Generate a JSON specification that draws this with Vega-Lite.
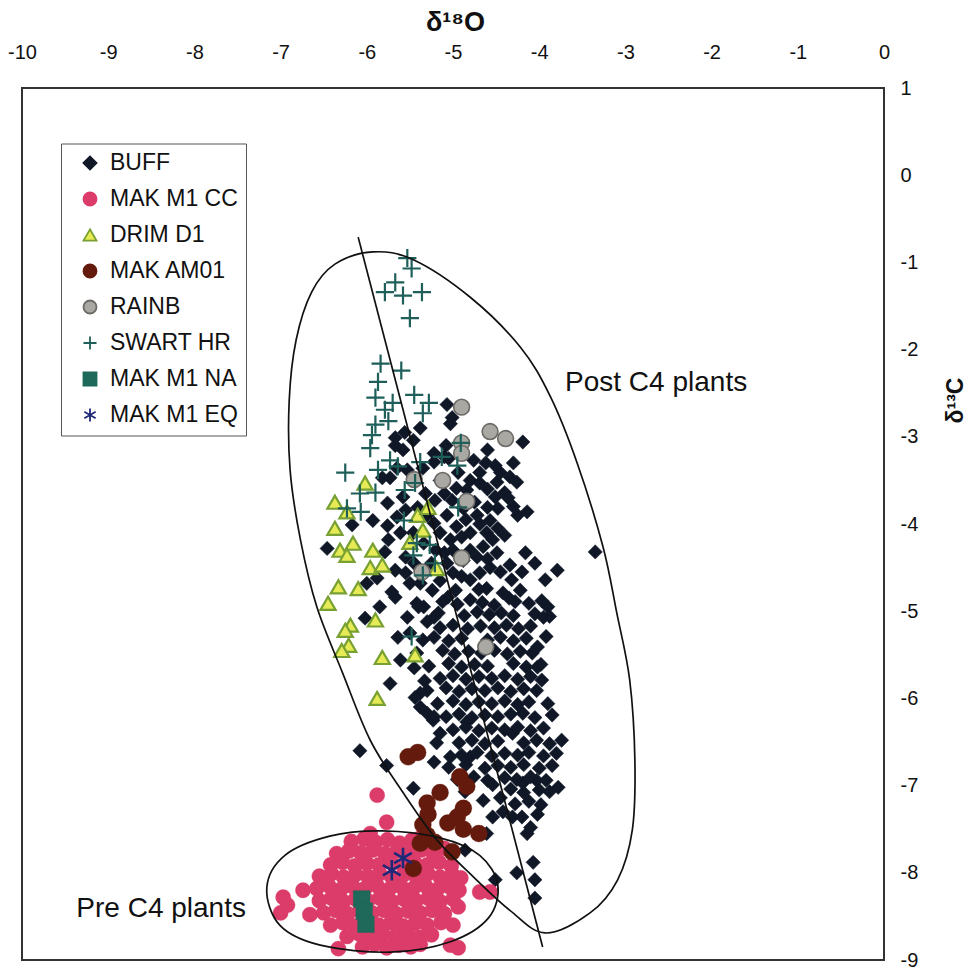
{
"$schema":"https://vega.github.io/schema/vega-lite/v6.json",
"width":862,"height":872,
"autosize":{"type":"none"},
"padding":{"left":22,"top":88,"right":85,"bottom":13},
"background":"white",
"config":{
 "view":{"stroke":"#333","strokeWidth":2},
 "font":"Liberation Sans",
 "legend":{"labelFont":"Liberation Sans","labelFontSize":23,"labelColor":"#111","symbolSize":170,"symbolStrokeWidth":1.8,"padding":8,"strokeColor":"#555","fillColor":"white","rowPadding":12,"symbolOffset":9.5,"labelOffset":8.5,"labelLimit":400}
},
"datasets":{
"pts":[
{"s":"BUFF","x":-5.07,"y":-2.63},{"s":"BUFF","x":-5.01,"y":-2.78},{"s":"BUFF","x":-5.03,"y":-2.85},{"s":"BUFF","x":-5.38,"y":-2.90},{"s":"BUFF","x":-5.56,"y":-2.95},{"s":"BUFF","x":-5.67,"y":-3.01},{"s":"BUFF","x":-5.46,"y":-3.04},{"s":"BUFF","x":-4.19,"y":-3.06},{"s":"BUFF","x":-4.60,"y":-3.15},{"s":"BUFF","x":-4.76,"y":-3.27},{"s":"BUFF","x":-5.22,"y":-3.29},{"s":"BUFF","x":-5.08,"y":-3.10},{"s":"BUFF","x":-4.51,"y":-3.33},{"s":"BUFF","x":-4.45,"y":-3.41},{"s":"BUFF","x":-4.34,"y":-3.46},{"s":"BUFF","x":-4.26,"y":-3.52},{"s":"BUFF","x":-4.49,"y":-3.52},{"s":"BUFF","x":-4.69,"y":-3.41},{"s":"BUFF","x":-4.80,"y":-3.50},{"s":"BUFF","x":-4.96,"y":-3.59},{"s":"BUFF","x":-4.84,"y":-3.61},{"s":"BUFF","x":-4.69,"y":-3.53},{"s":"BUFF","x":-4.40,"y":-3.64},{"s":"BUFF","x":-4.36,"y":-3.70},{"s":"BUFF","x":-4.51,"y":-3.69},{"s":"BUFF","x":-4.14,"y":-3.86},{"s":"BUFF","x":-4.25,"y":-3.90},{"s":"BUFF","x":-4.48,"y":-3.82},{"s":"BUFF","x":-4.57,"y":-3.96},{"s":"BUFF","x":-4.69,"y":-4.00},{"s":"BUFF","x":-4.72,"y":-3.90},{"s":"BUFF","x":-5.07,"y":-3.90},{"s":"BUFF","x":-4.96,"y":-4.03},{"s":"BUFF","x":-5.15,"y":-4.10},{"s":"BUFF","x":-5.03,"y":-4.18},{"s":"BUFF","x":-4.90,"y":-4.15},{"s":"BUFF","x":-4.80,"y":-4.10},{"s":"BUFF","x":-4.61,"y":-4.10},{"s":"BUFF","x":-4.48,"y":-4.05},{"s":"BUFF","x":-4.40,"y":-4.13},{"s":"BUFF","x":-4.54,"y":-4.18},{"s":"BUFF","x":-4.65,"y":-4.26},{"s":"BUFF","x":-4.72,"y":-4.38},{"s":"BUFF","x":-4.49,"y":-4.33},{"s":"BUFF","x":-4.34,"y":-4.47},{"s":"BUFF","x":-4.57,"y":-4.50},{"s":"BUFF","x":-4.69,"y":-4.56},{"s":"BUFF","x":-4.80,"y":-4.64},{"s":"BUFF","x":-5.00,"y":-4.56},{"s":"BUFF","x":-5.07,"y":-4.45},{"s":"BUFF","x":-4.88,"y":-4.42},{"s":"BUFF","x":-4.16,"y":-4.33},{"s":"BUFF","x":-3.79,"y":-4.53},{"s":"BUFF","x":-3.93,"y":-4.64},{"s":"BUFF","x":-4.32,"y":-4.64},{"s":"BUFF","x":-4.22,"y":-4.76},{"s":"BUFF","x":-4.42,"y":-4.79},{"s":"BUFF","x":-4.61,"y":-4.74},{"s":"BUFF","x":-5.71,"y":-4.78},{"s":"BUFF","x":-5.79,"y":-4.32},{"s":"BUFF","x":-5.75,"y":-4.18},{"s":"BUFF","x":-5.61,"y":-4.10},{"s":"BUFF","x":-5.65,"y":-3.92},{"s":"BUFF","x":-5.76,"y":-3.76},{"s":"BUFF","x":-5.58,"y":-3.69},{"s":"BUFF","x":-5.73,"y":-3.47},{"s":"BUFF","x":-5.65,"y":-3.36},{"s":"BUFF","x":-5.53,"y":-3.38},{"s":"BUFF","x":-5.35,"y":-3.36},{"s":"BUFF","x":-5.22,"y":-3.19},{"s":"BUFF","x":-5.58,"y":-3.15},{"s":"BUFF","x":-5.21,"y":-3.73},{"s":"BUFF","x":-5.32,"y":-3.65},{"s":"BUFF","x":-5.41,"y":-3.81},{"s":"BUFF","x":-5.55,"y":-3.84},{"s":"BUFF","x":-5.22,"y":-3.99},{"s":"BUFF","x":-5.34,"y":-4.22},{"s":"BUFF","x":-5.46,"y":-4.10},{"s":"BUFF","x":-5.55,"y":-4.38},{"s":"BUFF","x":-5.67,"y":-4.53},{"s":"BUFF","x":-5.38,"y":-4.68},{"s":"BUFF","x":-5.24,"y":-4.76},{"s":"BUFF","x":-4.97,"y":-4.76},{"s":"BUFF","x":-4.80,"y":-4.87},{"s":"BUFF","x":-5.10,"y":-4.33},{"s":"BUFF","x":-4.60,"y":-3.81},{"s":"BUFF","x":-4.88,"y":-3.82},{"s":"BUFF","x":-5.01,"y":-3.73},{"s":"BUFF","x":-5.15,"y":-3.50},{"s":"BUFF","x":-4.94,"y":-3.41},
{"s":"BUFF","x":-5.10,"y":-3.65},{"s":"BUFF","x":-4.60,"y":-3.60},{"s":"BUFF","x":-4.30,"y":-3.80},{"s":"BUFF","x":-5.30,"y":-3.90},{"s":"BUFF","x":-4.85,"y":-3.95},{"s":"BUFF","x":-5.00,"y":-4.30},{"s":"BUFF","x":-4.80,"y":-4.30},{"s":"BUFF","x":-4.60,"y":-4.40},{"s":"BUFF","x":-4.45,"y":-4.55},{"s":"BUFF","x":-4.90,"y":-4.60},{"s":"BUFF","x":-5.15,"y":-4.65},{"s":"BUFF","x":-4.35,"y":-4.85},{"s":"BUFF","x":-4.70,"y":-4.75},{"s":"BUFF","x":-5.45,"y":-4.45},{"s":"BUFF","x":-5.25,"y":-4.45},{"s":"BUFF","x":-4.20,"y":-4.55},{"s":"BUFF","x":-4.05,"y":-4.45},{"s":"BUFF","x":-5.20,"y":-4.30},{"s":"BUFF","x":-4.75,"y":-3.75},{"s":"BUFF","x":-5.05,"y":-3.25},{"s":"BUFF","x":-4.62,"y":-3.30},{"s":"BUFF","x":-4.30,"y":-3.30},
{"s":"BUFF","x":-3.35,"y":-4.32},{"s":"BUFF","x":-6.46,"y":-4.28},{"s":"BUFF","x":-6.17,"y":-4.01},{"s":"BUFF","x":-5.93,"y":-3.96},{"s":"BUFF","x":-5.82,"y":-3.47},{"s":"BUFF","x":-5.76,"y":-4.02},{"s":"BUFF","x":-6.00,"y":-4.68},{"s":"BUFF","x":-5.88,"y":-4.62},{"s":"BUFF","x":-5.85,"y":-4.95},{"s":"BUFF","x":-6.02,"y":-5.08},{"s":"BUFF","x":-5.67,"y":-4.84},{"s":"BUFF","x":-5.50,"y":-4.68},{"s":"BUFF","x":-5.55,"y":-4.56},{"s":"BUFF","x":-5.53,"y":-5.07},{"s":"BUFF","x":-5.34,"y":-4.95},{"s":"BUFF","x":-5.22,"y":-5.07},{"s":"BUFF","x":-5.06,"y":-4.84},{"s":"BUFF","x":-5.10,"y":-3.23},{"s":"BUFF","x":-5.67,"y":-3.10},
{"s":"BUFF","x":-5.64,"y":-5.30},{"s":"BUFF","x":-5.61,"y":-5.56},{"s":"BUFF","x":-5.73,"y":-5.83},{"s":"BUFF","x":-5.38,"y":-5.94},{"s":"BUFF","x":-5.30,"y":-6.17},{"s":"BUFF","x":-5.23,"y":-6.25},{"s":"BUFF","x":-5.15,"y":-6.40},{"s":"BUFF","x":-5.03,"y":-6.67},{"s":"BUFF","x":-4.80,"y":-6.67},{"s":"BUFF","x":-5.77,"y":-6.77},{"s":"BUFF","x":-6.08,"y":-6.60},{"s":"BUFF","x":-5.46,"y":-7.03},
{"s":"BUFF","x":-3.74,"y":-6.48},{"s":"BUFF","x":-3.78,"y":-7.02},{"s":"BUFF","x":-4.03,"y":-6.94},{"s":"BUFF","x":-4.14,"y":-7.55},{"s":"BUFF","x":-4.07,"y":-7.88},{"s":"BUFF","x":-4.26,"y":-8.00},{"s":"BUFF","x":-4.05,"y":-8.08},{"s":"BUFF","x":-4.05,"y":-8.29},{"s":"BUFF","x":-4.51,"y":-8.08},{"s":"BUFF","x":-4.31,"y":-7.36},
{"s":"BUFF","x":-4.54,"y":-6.99},{"s":"BUFF","x":-4.65,"y":-7.17},{"s":"BUFF","x":-4.45,"y":-7.14},{"s":"BUFF","x":-4.54,"y":-7.36},{"s":"BUFF","x":-4.42,"y":-7.30},{"s":"BUFF","x":-4.19,"y":-6.97},{"s":"BUFF","x":-4.61,"y":-7.55},{"s":"BUFF","x":-4.86,"y":-7.74},
{"s":"BUFF","x":-3.90,"y":-4.95},{"s":"BUFF","x":-3.95,"y":-5.07},{"s":"BUFF","x":-4.02,"y":-5.41},{"s":"BUFF","x":-4.02,"y":-5.64},{"s":"BUFF","x":-5.44,"y":-5.99},{"s":"BUFF","x":-5.38,"y":-6.10},{"s":"BUFF","x":-5.22,"y":-6.21},{"s":"BUFF","x":-5.19,"y":-6.51},{"s":"BUFF","x":-5.22,"y":-6.73},{"s":"BUFF","x":-4.84,"y":-6.27},{"s":"BUFF","x":-4.31,"y":-6.40},{"s":"BUFF","x":-4.19,"y":-6.17},
{"s":"BUFF","x":-5.40,"y":-4.95},{"s":"BUFF","x":-5.30,"y":-5.12},{"s":"BUFF","x":-5.45,"y":-5.65},{"s":"BUFF","x":-5.33,"y":-5.80},{"s":"BUFF","x":-5.50,"y":-5.25},
{"s":"BUFF","x":-5.42,"y":-4.91},{"s":"BUFF","x":-5.12,"y":-4.89},{"s":"BUFF","x":-4.95,"y":-4.92},{"s":"BUFF","x":-4.66,"y":-4.90},{"s":"BUFF","x":-4.52,"y":-4.93},{"s":"BUFF","x":-4.28,"y":-4.89},{"s":"BUFF","x":-4.12,"y":-4.91},{"s":"BUFF","x":-3.97,"y":-4.88},
{"s":"BUFF","x":-5.17,"y":-5.02},{"s":"BUFF","x":-4.87,"y":-5.05},{"s":"BUFF","x":-4.72,"y":-5.01},{"s":"BUFF","x":-4.58,"y":-5.04},{"s":"BUFF","x":-4.44,"y":-5.02},{"s":"BUFF","x":-4.30,"y":-5.05},{"s":"BUFF","x":-4.05,"y":-5.03},{"s":"BUFF","x":-3.88,"y":-5.06},
{"s":"BUFF","x":-5.15,"y":-5.19},{"s":"BUFF","x":-5.00,"y":-5.16},{"s":"BUFF","x":-4.83,"y":-5.20},{"s":"BUFF","x":-4.68,"y":-5.17},{"s":"BUFF","x":-4.52,"y":-5.19},{"s":"BUFF","x":-4.38,"y":-5.16},{"s":"BUFF","x":-4.24,"y":-5.20},{"s":"BUFF","x":-4.10,"y":-5.17},
{"s":"BUFF","x":-5.35,"y":-5.33},{"s":"BUFF","x":-5.22,"y":-5.30},{"s":"BUFF","x":-5.05,"y":-5.34},{"s":"BUFF","x":-4.90,"y":-5.31},{"s":"BUFF","x":-4.60,"y":-5.33},{"s":"BUFF","x":-4.45,"y":-5.30},{"s":"BUFF","x":-4.30,"y":-5.34},{"s":"BUFF","x":-4.15,"y":-5.31},{"s":"BUFF","x":-3.92,"y":-5.29},
{"s":"BUFF","x":-5.42,"y":-5.48},{"s":"BUFF","x":-5.12,"y":-5.45},{"s":"BUFF","x":-4.98,"y":-5.49},{"s":"BUFF","x":-4.82,"y":-5.46},{"s":"BUFF","x":-4.67,"y":-5.48},{"s":"BUFF","x":-4.52,"y":-5.45},{"s":"BUFF","x":-4.37,"y":-5.49},{"s":"BUFF","x":-4.22,"y":-5.46},{"s":"BUFF","x":-4.08,"y":-5.48},
{"s":"BUFF","x":-5.28,"y":-5.63},{"s":"BUFF","x":-5.05,"y":-5.60},{"s":"BUFF","x":-4.90,"y":-5.64},{"s":"BUFF","x":-4.75,"y":-5.61},{"s":"BUFF","x":-4.60,"y":-5.63},{"s":"BUFF","x":-4.30,"y":-5.60},{"s":"BUFF","x":-4.15,"y":-5.64},{"s":"BUFF","x":-3.98,"y":-5.61},
{"s":"BUFF","x":-5.15,"y":-5.77},{"s":"BUFF","x":-5.00,"y":-5.74},{"s":"BUFF","x":-4.85,"y":-5.78},{"s":"BUFF","x":-4.70,"y":-5.75},{"s":"BUFF","x":-4.55,"y":-5.77},{"s":"BUFF","x":-4.40,"y":-5.74},{"s":"BUFF","x":-4.25,"y":-5.78},{"s":"BUFF","x":-4.10,"y":-5.75},{"s":"BUFF","x":-3.97,"y":-5.79},
{"s":"BUFF","x":-5.30,"y":-5.91},{"s":"BUFF","x":-5.08,"y":-5.88},{"s":"BUFF","x":-4.93,"y":-5.92},{"s":"BUFF","x":-4.78,"y":-5.89},{"s":"BUFF","x":-4.63,"y":-5.91},{"s":"BUFF","x":-4.48,"y":-5.88},{"s":"BUFF","x":-4.33,"y":-5.92},{"s":"BUFF","x":-4.18,"y":-5.89},{"s":"BUFF","x":-4.03,"y":-5.91},
{"s":"BUFF","x":-5.18,"y":-6.06},{"s":"BUFF","x":-5.00,"y":-6.03},{"s":"BUFF","x":-4.85,"y":-6.07},{"s":"BUFF","x":-4.70,"y":-6.04},{"s":"BUFF","x":-4.55,"y":-6.06},{"s":"BUFF","x":-4.40,"y":-6.03},{"s":"BUFF","x":-4.25,"y":-6.07},{"s":"BUFF","x":-4.12,"y":-6.04},{"s":"BUFF","x":-3.90,"y":-6.06},
{"s":"BUFF","x":-5.08,"y":-6.21},{"s":"BUFF","x":-4.93,"y":-6.18},{"s":"BUFF","x":-4.78,"y":-6.22},{"s":"BUFF","x":-4.63,"y":-6.19},{"s":"BUFF","x":-4.48,"y":-6.21},{"s":"BUFF","x":-4.33,"y":-6.18},{"s":"BUFF","x":-4.05,"y":-6.22},{"s":"BUFF","x":-3.85,"y":-6.19},
{"s":"BUFF","x":-5.00,"y":-6.36},{"s":"BUFF","x":-4.85,"y":-6.33},{"s":"BUFF","x":-4.70,"y":-6.37},{"s":"BUFF","x":-4.55,"y":-6.34},{"s":"BUFF","x":-4.40,"y":-6.36},{"s":"BUFF","x":-4.25,"y":-6.33},{"s":"BUFF","x":-4.10,"y":-6.37},{"s":"BUFF","x":-3.95,"y":-6.34},
{"s":"BUFF","x":-4.93,"y":-6.51},{"s":"BUFF","x":-4.78,"y":-6.48},{"s":"BUFF","x":-4.63,"y":-6.52},{"s":"BUFF","x":-4.48,"y":-6.49},{"s":"BUFF","x":-4.18,"y":-6.51},{"s":"BUFF","x":-4.03,"y":-6.48},{"s":"BUFF","x":-3.88,"y":-6.52},
{"s":"BUFF","x":-4.90,"y":-6.65},{"s":"BUFF","x":-4.72,"y":-6.62},{"s":"BUFF","x":-4.55,"y":-6.66},{"s":"BUFF","x":-4.40,"y":-6.63},{"s":"BUFF","x":-4.25,"y":-6.65},{"s":"BUFF","x":-4.12,"y":-6.62},{"s":"BUFF","x":-3.95,"y":-6.66},{"s":"BUFF","x":-3.80,"y":-6.63},
{"s":"BUFF","x":-5.05,"y":-6.79},{"s":"BUFF","x":-4.85,"y":-6.76},{"s":"BUFF","x":-4.63,"y":-6.80},{"s":"BUFF","x":-4.48,"y":-6.77},{"s":"BUFF","x":-4.33,"y":-6.79},{"s":"BUFF","x":-4.18,"y":-6.76},{"s":"BUFF","x":-4.00,"y":-6.80},{"s":"BUFF","x":-3.85,"y":-6.77},
{"s":"BUFF","x":-4.95,"y":-6.93},{"s":"BUFF","x":-4.76,"y":-6.90},{"s":"BUFF","x":-4.60,"y":-6.94},{"s":"BUFF","x":-4.40,"y":-6.91},{"s":"BUFF","x":-4.26,"y":-6.93},{"s":"BUFF","x":-4.10,"y":-6.90},{"s":"BUFF","x":-3.92,"y":-6.94},
{"s":"BUFF","x":-4.86,"y":-7.07},{"s":"BUFF","x":-4.33,"y":-7.04},{"s":"BUFF","x":-4.18,"y":-7.08},{"s":"BUFF","x":-4.00,"y":-7.05},{"s":"BUFF","x":-3.88,"y":-7.07},
{"s":"BUFF","x":-4.28,"y":-7.21},{"s":"BUFF","x":-4.12,"y":-7.18},{"s":"BUFF","x":-3.98,"y":-7.22},{"s":"BUFF","x":-4.20,"y":-7.36},{"s":"BUFF","x":-4.02,"y":-7.33},{"s":"BUFF","x":-4.10,"y":-7.48},
{"s":"MAK M1 CC","x":-6.18,"y":-7.64},{"s":"MAK M1 CC","x":-6.03,"y":-7.61},{"s":"MAK M1 CC","x":-5.90,"y":-7.65},{"s":"MAK M1 CC","x":-5.76,"y":-7.62},{"s":"MAK M1 CC","x":-5.62,"y":-7.66},{"s":"MAK M1 CC","x":-5.48,"y":-7.63},{"s":"MAK M1 CC","x":-5.38,"y":-7.60},
{"s":"MAK M1 CC","x":-6.35,"y":-7.78},{"s":"MAK M1 CC","x":-6.21,"y":-7.75},{"s":"MAK M1 CC","x":-6.07,"y":-7.77},{"s":"MAK M1 CC","x":-5.93,"y":-7.74},{"s":"MAK M1 CC","x":-5.79,"y":-7.78},{"s":"MAK M1 CC","x":-5.65,"y":-7.75},{"s":"MAK M1 CC","x":-5.51,"y":-7.77},{"s":"MAK M1 CC","x":-5.37,"y":-7.74},{"s":"MAK M1 CC","x":-5.23,"y":-7.78},{"s":"MAK M1 CC","x":-5.10,"y":-7.72},
{"s":"MAK M1 CC","x":-6.42,"y":-7.91},{"s":"MAK M1 CC","x":-6.28,"y":-7.88},{"s":"MAK M1 CC","x":-6.14,"y":-7.92},{"s":"MAK M1 CC","x":-6.00,"y":-7.89},{"s":"MAK M1 CC","x":-5.86,"y":-7.91},{"s":"MAK M1 CC","x":-5.72,"y":-7.88},{"s":"MAK M1 CC","x":-5.58,"y":-7.92},{"s":"MAK M1 CC","x":-5.44,"y":-7.89},{"s":"MAK M1 CC","x":-5.30,"y":-7.91},{"s":"MAK M1 CC","x":-5.16,"y":-7.88},{"s":"MAK M1 CC","x":-5.02,"y":-7.92},
{"s":"MAK M1 CC","x":-6.55,"y":-8.04},{"s":"MAK M1 CC","x":-6.41,"y":-8.01},{"s":"MAK M1 CC","x":-6.27,"y":-8.05},{"s":"MAK M1 CC","x":-6.13,"y":-8.02},{"s":"MAK M1 CC","x":-5.99,"y":-8.04},{"s":"MAK M1 CC","x":-5.85,"y":-8.01},{"s":"MAK M1 CC","x":-5.71,"y":-8.05},{"s":"MAK M1 CC","x":-5.57,"y":-8.02},{"s":"MAK M1 CC","x":-5.43,"y":-8.04},{"s":"MAK M1 CC","x":-5.29,"y":-8.01},{"s":"MAK M1 CC","x":-5.15,"y":-8.05},{"s":"MAK M1 CC","x":-5.01,"y":-8.02},{"s":"MAK M1 CC","x":-4.91,"y":-8.06},
{"s":"MAK M1 CC","x":-6.58,"y":-8.18},{"s":"MAK M1 CC","x":-6.44,"y":-8.15},{"s":"MAK M1 CC","x":-6.30,"y":-8.19},{"s":"MAK M1 CC","x":-6.16,"y":-8.16},{"s":"MAK M1 CC","x":-6.02,"y":-8.18},{"s":"MAK M1 CC","x":-5.88,"y":-8.15},{"s":"MAK M1 CC","x":-5.74,"y":-8.19},{"s":"MAK M1 CC","x":-5.60,"y":-8.16},{"s":"MAK M1 CC","x":-5.46,"y":-8.18},{"s":"MAK M1 CC","x":-5.32,"y":-8.15},{"s":"MAK M1 CC","x":-5.18,"y":-8.19},{"s":"MAK M1 CC","x":-5.04,"y":-8.16},{"s":"MAK M1 CC","x":-4.93,"y":-8.20},
{"s":"MAK M1 CC","x":-6.55,"y":-8.32},{"s":"MAK M1 CC","x":-6.41,"y":-8.29},{"s":"MAK M1 CC","x":-6.27,"y":-8.33},{"s":"MAK M1 CC","x":-6.13,"y":-8.30},{"s":"MAK M1 CC","x":-5.99,"y":-8.32},{"s":"MAK M1 CC","x":-5.85,"y":-8.29},{"s":"MAK M1 CC","x":-5.71,"y":-8.33},{"s":"MAK M1 CC","x":-5.57,"y":-8.30},{"s":"MAK M1 CC","x":-5.43,"y":-8.32},{"s":"MAK M1 CC","x":-5.29,"y":-8.29},{"s":"MAK M1 CC","x":-5.15,"y":-8.33},{"s":"MAK M1 CC","x":-5.00,"y":-8.30},
{"s":"MAK M1 CC","x":-6.50,"y":-8.46},{"s":"MAK M1 CC","x":-6.36,"y":-8.43},{"s":"MAK M1 CC","x":-6.22,"y":-8.47},{"s":"MAK M1 CC","x":-6.08,"y":-8.44},{"s":"MAK M1 CC","x":-5.94,"y":-8.46},{"s":"MAK M1 CC","x":-5.80,"y":-8.43},{"s":"MAK M1 CC","x":-5.66,"y":-8.47},{"s":"MAK M1 CC","x":-5.52,"y":-8.44},{"s":"MAK M1 CC","x":-5.38,"y":-8.46},{"s":"MAK M1 CC","x":-5.24,"y":-8.43},{"s":"MAK M1 CC","x":-5.10,"y":-8.47},
{"s":"MAK M1 CC","x":-6.42,"y":-8.60},{"s":"MAK M1 CC","x":-6.28,"y":-8.57},{"s":"MAK M1 CC","x":-6.14,"y":-8.61},{"s":"MAK M1 CC","x":-6.00,"y":-8.58},{"s":"MAK M1 CC","x":-5.86,"y":-8.60},{"s":"MAK M1 CC","x":-5.72,"y":-8.57},{"s":"MAK M1 CC","x":-5.58,"y":-8.61},{"s":"MAK M1 CC","x":-5.44,"y":-8.58},{"s":"MAK M1 CC","x":-5.30,"y":-8.60},{"s":"MAK M1 CC","x":-5.14,"y":-8.57},
{"s":"MAK M1 CC","x":-6.23,"y":-8.73},{"s":"MAK M1 CC","x":-6.09,"y":-8.70},{"s":"MAK M1 CC","x":-5.95,"y":-8.74},{"s":"MAK M1 CC","x":-5.81,"y":-8.71},{"s":"MAK M1 CC","x":-5.67,"y":-8.73},{"s":"MAK M1 CC","x":-5.53,"y":-8.70},{"s":"MAK M1 CC","x":-5.39,"y":-8.74},{"s":"MAK M1 CC","x":-5.25,"y":-8.71},
{"s":"MAK M1 CC","x":-6.05,"y":-8.85},{"s":"MAK M1 CC","x":-5.91,"y":-8.82},{"s":"MAK M1 CC","x":-5.77,"y":-8.86},{"s":"MAK M1 CC","x":-5.63,"y":-8.83},{"s":"MAK M1 CC","x":-5.49,"y":-8.85},{"s":"MAK M1 CC","x":-5.38,"y":-8.82},
{"s":"MAK M1 CC","x":-5.88,"y":-7.11},{"s":"MAK M1 CC","x":-5.77,"y":-7.42},{"s":"MAK M1 CC","x":-5.96,"y":-7.55},{"s":"MAK M1 CC","x":-6.74,"y":-8.20},{"s":"MAK M1 CC","x":-6.97,"y":-8.28},{"s":"MAK M1 CC","x":-6.92,"y":-8.37},{"s":"MAK M1 CC","x":-7.00,"y":-8.46},{"s":"MAK M1 CC","x":-6.66,"y":-8.48},{"s":"MAK M1 CC","x":-6.33,"y":-8.87},{"s":"MAK M1 CC","x":-5.03,"y":-8.83},{"s":"MAK M1 CC","x":-4.94,"y":-8.86},{"s":"MAK M1 CC","x":-5.00,"y":-8.60},{"s":"MAK M1 CC","x":-4.94,"y":-8.39},{"s":"MAK M1 CC","x":-4.69,"y":-8.22},{"s":"MAK M1 CC","x":-4.57,"y":-8.22},
{"s":"DRIM D1","x":-6.02,"y":-3.53},{"s":"DRIM D1","x":-6.37,"y":-3.75},{"s":"DRIM D1","x":-6.23,"y":-3.86},{"s":"DRIM D1","x":-6.37,"y":-4.05},{"s":"DRIM D1","x":-6.16,"y":-4.22},{"s":"DRIM D1","x":-6.31,"y":-4.30},{"s":"DRIM D1","x":-6.23,"y":-4.36},{"s":"DRIM D1","x":-5.93,"y":-4.30},{"s":"DRIM D1","x":-5.96,"y":-4.50},{"s":"DRIM D1","x":-5.82,"y":-4.47},{"s":"DRIM D1","x":-6.33,"y":-4.72},{"s":"DRIM D1","x":-6.10,"y":-4.74},{"s":"DRIM D1","x":-6.45,"y":-4.91},{"s":"DRIM D1","x":-6.19,"y":-5.16},{"s":"DRIM D1","x":-6.25,"y":-5.22},{"s":"DRIM D1","x":-6.21,"y":-5.39},{"s":"DRIM D1","x":-6.29,"y":-5.45},{"s":"DRIM D1","x":-5.90,"y":-5.10},{"s":"DRIM D1","x":-5.82,"y":-5.53},{"s":"DRIM D1","x":-5.44,"y":-5.50},{"s":"DRIM D1","x":-5.88,"y":-6.00},{"s":"DRIM D1","x":-5.41,"y":-3.90},{"s":"DRIM D1","x":-5.29,"y":-3.81},{"s":"DRIM D1","x":-5.35,"y":-4.07},{"s":"DRIM D1","x":-5.50,"y":-4.21},{"s":"DRIM D1","x":-5.19,"y":-4.51},
{"s":"MAK AM01","x":-5.52,"y":-6.67},{"s":"MAK AM01","x":-5.41,"y":-6.62},{"s":"MAK AM01","x":-4.92,"y":-6.90},{"s":"MAK AM01","x":-4.84,"y":-7.01},{"s":"MAK AM01","x":-5.15,"y":-7.08},{"s":"MAK AM01","x":-5.30,"y":-7.20},{"s":"MAK AM01","x":-5.29,"y":-7.33},{"s":"MAK AM01","x":-5.35,"y":-7.45},{"s":"MAK AM01","x":-5.30,"y":-7.57},{"s":"MAK AM01","x":-4.88,"y":-7.26},{"s":"MAK AM01","x":-4.95,"y":-7.36},{"s":"MAK AM01","x":-5.06,"y":-7.43},{"s":"MAK AM01","x":-4.88,"y":-7.50},{"s":"MAK AM01","x":-4.70,"y":-7.55},{"s":"MAK AM01","x":-5.38,"y":-7.66},{"s":"MAK AM01","x":-5.21,"y":-7.65},{"s":"MAK AM01","x":-5.01,"y":-7.76},{"s":"MAK AM01","x":-5.46,"y":-7.95},
{"s":"RAINB","x":-4.90,"y":-2.66},{"s":"RAINB","x":-4.57,"y":-2.94},{"s":"RAINB","x":-4.39,"y":-3.02},{"s":"RAINB","x":-4.90,"y":-3.07},{"s":"RAINB","x":-4.90,"y":-3.19},{"s":"RAINB","x":-5.45,"y":-3.49},{"s":"RAINB","x":-5.12,"y":-3.50},{"s":"RAINB","x":-4.84,"y":-3.74},{"s":"RAINB","x":-4.90,"y":-4.39},{"s":"RAINB","x":-5.36,"y":-4.55},{"s":"RAINB","x":-4.62,"y":-5.41},
{"s":"SWART HR","x":-5.53,"y":-0.95},{"s":"SWART HR","x":-5.48,"y":-1.07},{"s":"SWART HR","x":-5.79,"y":-1.34},{"s":"SWART HR","x":-5.67,"y":-1.23},{"s":"SWART HR","x":-5.58,"y":-1.38},{"s":"SWART HR","x":-5.36,"y":-1.34},{"s":"SWART HR","x":-5.50,"y":-1.64},{"s":"SWART HR","x":-5.84,"y":-2.16},{"s":"SWART HR","x":-5.60,"y":-2.24},{"s":"SWART HR","x":-5.87,"y":-2.37},{"s":"SWART HR","x":-5.90,"y":-2.55},{"s":"SWART HR","x":-5.70,"y":-2.61},{"s":"SWART HR","x":-5.45,"y":-2.52},{"s":"SWART HR","x":-5.28,"y":-2.61},{"s":"SWART HR","x":-5.35,"y":-2.73},{"s":"SWART HR","x":-5.79,"y":-2.69},{"s":"SWART HR","x":-5.75,"y":-2.82},{"s":"SWART HR","x":-5.90,"y":-2.86},{"s":"SWART HR","x":-5.94,"y":-2.98},{"s":"SWART HR","x":-5.96,"y":-3.13},{"s":"SWART HR","x":-5.73,"y":-3.27},{"s":"SWART HR","x":-5.64,"y":-3.34},{"s":"SWART HR","x":-5.38,"y":-3.29},{"s":"SWART HR","x":-5.13,"y":-3.23},{"s":"SWART HR","x":-4.95,"y":-3.33},{"s":"SWART HR","x":-4.91,"y":-3.07},{"s":"SWART HR","x":-6.25,"y":-3.41},{"s":"SWART HR","x":-5.87,"y":-3.38},{"s":"SWART HR","x":-5.90,"y":-3.64},{"s":"SWART HR","x":-6.08,"y":-3.65},{"s":"SWART HR","x":-6.23,"y":-3.82},{"s":"SWART HR","x":-6.07,"y":-3.86},{"s":"SWART HR","x":-5.56,"y":-3.61},{"s":"SWART HR","x":-5.44,"y":-3.53},{"s":"SWART HR","x":-4.94,"y":-3.81},{"s":"SWART HR","x":-5.57,"y":-3.96},{"s":"SWART HR","x":-5.42,"y":-4.22},{"s":"SWART HR","x":-5.46,"y":-4.36},{"s":"SWART HR","x":-5.27,"y":-4.24},{"s":"SWART HR","x":-5.21,"y":-4.45},{"s":"SWART HR","x":-5.35,"y":-4.59},{"s":"SWART HR","x":-5.48,"y":-5.29},
{"s":"MAK M1 NA","x":-6.06,"y":-8.30},{"s":"MAK M1 NA","x":-6.03,"y":-8.44},{"s":"MAK M1 NA","x":-6.01,"y":-8.59},
{"s":"MAK M1 EQ","x":-5.58,"y":-7.83},{"s":"MAK M1 EQ","x":-5.71,"y":-7.97}
],
"ell":[
{"g":"post","i":0,"x":-5.93,"y":-0.88},{"g":"post","i":1,"x":-5.46,"y":-0.97},{"g":"post","i":2,"x":-4.80,"y":-1.40},{"g":"post","i":3,"x":-4.22,"y":-1.97},{"g":"post","i":4,"x":-3.87,"y":-2.54},{"g":"post","i":5,"x":-3.56,"y":-3.30},{"g":"post","i":6,"x":-3.26,"y":-4.26},{"g":"post","i":7,"x":-3.10,"y":-5.02},{"g":"post","i":8,"x":-2.95,"y":-5.79},{"g":"post","i":9,"x":-2.89,"y":-6.71},{"g":"post","i":10,"x":-2.92,"y":-7.51},{"g":"post","i":11,"x":-3.09,"y":-8.08},{"g":"post","i":12,"x":-3.41,"y":-8.46},{"g":"post","i":13,"x":-3.93,"y":-8.69},{"g":"post","i":14,"x":-4.34,"y":-8.43},{"g":"post","i":15,"x":-4.77,"y":-8.04},{"g":"post","i":16,"x":-5.19,"y":-7.62},{"g":"post","i":17,"x":-5.58,"y":-7.08},{"g":"post","i":18,"x":-5.96,"y":-6.48},{"g":"post","i":19,"x":-6.28,"y":-5.71},{"g":"post","i":20,"x":-6.58,"y":-4.95},{"g":"post","i":21,"x":-6.77,"y":-4.18},{"g":"post","i":22,"x":-6.89,"y":-3.38},{"g":"post","i":23,"x":-6.90,"y":-2.58},{"g":"post","i":24,"x":-6.82,"y":-1.89},{"g":"post","i":25,"x":-6.64,"y":-1.34},{"g":"post","i":26,"x":-6.37,"y":-1.02},
{"g":"pre","i":0,"x":-7.16,"y":-8.17},{"g":"pre","i":1,"x":-6.95,"y":-7.80},{"g":"pre","i":2,"x":-6.43,"y":-7.58},{"g":"pre","i":3,"x":-5.82,"y":-7.52},{"g":"pre","i":4,"x":-5.15,"y":-7.60},{"g":"pre","i":5,"x":-4.69,"y":-7.80},{"g":"pre","i":6,"x":-4.48,"y":-8.14},{"g":"pre","i":7,"x":-4.59,"y":-8.52},{"g":"pre","i":8,"x":-5.03,"y":-8.79},{"g":"pre","i":9,"x":-5.73,"y":-8.91},{"g":"pre","i":10,"x":-6.54,"y":-8.83},{"g":"pre","i":11,"x":-7.01,"y":-8.60}
],
"div":[{"i":0,"x":-6.10,"y":-0.71},{"i":1,"x":-3.96,"y":-8.85}],
"lab":[{"x":-3.70,"y":-2.385,"t":"Post C4 plants"},{"x":-9.37,"y":-8.41,"t":"Pre C4 plants"}]
},
"encoding":{
 "x":{"field":"x","type":"quantitative","scale":{"domain":[-10,0],"nice":false,"zero":false},
  "axis":{"orient":"top","values":[-10,-9,-8,-7,-6,-5,-4,-3,-2,-1,0],"labelExpr":"'' + datum.value","ticks":false,"tickSize":0,"domain":false,"grid":false,"labelFlush":false,"labelOverlap":false,"labelFont":"Liberation Sans","labelFontSize":20,"labelColor":"#111","labelPadding":26,"title":"δ¹⁸O","titleFont":"Liberation Sans","titleFontSize":27,"titleFontWeight":"bold","titleColor":"#111","titleX":433,"titleY":-66,"titleAlign":"center","titleBaseline":"middle"}},
 "y":{"field":"y","type":"quantitative","scale":{"domain":[-9,1],"nice":false,"zero":false},
  "axis":{"orient":"right","values":[-9,-8,-7,-6,-5,-4,-3,-2,-1,0,1],"labelExpr":"'' + datum.value","ticks":false,"tickSize":0,"domain":false,"grid":false,"labelFlush":false,"labelOverlap":false,"labelFont":"Liberation Sans","labelFontSize":20,"labelColor":"#111","labelPadding":16,"labelAlign":"left","title":"δ¹³C","titleFont":"Liberation Sans","titleFontSize":23,"titleFontWeight":"bold","titleColor":"#111","titleAngle":270,"titleX":71,"titleY":312,"titleAlign":"center","titleBaseline":"middle"}}
},
"layer":[
 {"data":{"name":"pts"},
  "encoding":{
   "shape":{"field":"s","type":"nominal","scale":{"domain":["BUFF","MAK M1 CC","DRIM D1","MAK AM01","RAINB","SWART HR","MAK M1 NA","MAK M1 EQ"],"range":["diamond","circle","triangle-up","circle","circle","M-1,0H1M0,-1V1","square","M0,-1V1M-0.866,-0.5L0.866,0.5M-0.866,0.5L0.866,-0.5"]},"legend":{"orient":"none","legendX":39,"legendY":55.5,"title":null,"direction":"vertical"}},
   "fill":{"field":"s","type":"nominal","scale":{"domain":["BUFF","MAK M1 CC","DRIM D1","MAK AM01","RAINB","SWART HR","MAK M1 NA","MAK M1 EQ"],"range":["#101828","#dc3c69","#e5ea55","#641a0c","#aaa8a2","transparent","#1e695a","transparent"]}},
   "stroke":{"field":"s","type":"nominal","scale":{"domain":["BUFF","MAK M1 CC","DRIM D1","MAK AM01","RAINB","SWART HR","MAK M1 NA","MAK M1 EQ"],"range":["#101828","#dc3c69","#78a032","#641a0c","#6c6a66","#1e5f5a","#1e695a","#1e2878"]}}
  },
  "layer":[
   {"transform":[{"filter":"datum.s === 'BUFF'"}],"mark":{"type":"point","size":205,"strokeWidth":0.5,"opacity":1,"fillOpacity":1}},
   {"transform":[{"filter":"datum.s === 'MAK M1 CC'"}],"mark":{"type":"point","size":235,"strokeWidth":0.3,"opacity":1,"fillOpacity":1}},
   {"transform":[{"filter":"datum.s === 'DRIM D1'"}],"mark":{"type":"point","size":230,"strokeWidth":2.2,"opacity":1,"fillOpacity":1}},
   {"transform":[{"filter":"datum.s === 'MAK AM01'"}],"mark":{"type":"point","size":290,"strokeWidth":0.3,"opacity":1,"fillOpacity":1}},
   {"transform":[{"filter":"datum.s === 'RAINB'"}],"mark":{"type":"point","size":250,"strokeWidth":1.6,"opacity":1,"fillOpacity":1}},
   {"transform":[{"filter":"datum.s === 'SWART HR'"}],"mark":{"type":"point","size":330,"strokeWidth":2.2,"opacity":1,"fillOpacity":1}},
   {"transform":[{"filter":"datum.s === 'MAK M1 NA'"}],"mark":{"type":"point","size":280,"strokeWidth":0.3,"opacity":1,"fillOpacity":1}},
   {"transform":[{"filter":"datum.s === 'MAK M1 EQ'"}],"mark":{"type":"point","size":420,"strokeWidth":2.6,"opacity":1,"fillOpacity":1}}
  ]
 },
 {"data":{"name":"ell"},"mark":{"type":"line","interpolate":"cardinal-closed","color":"#111","strokeWidth":1.7},
  "encoding":{"detail":{"field":"g"},"order":{"field":"i","type":"quantitative"}}},
 {"data":{"name":"div"},"mark":{"type":"line","color":"#111","strokeWidth":1.7},
  "encoding":{"order":{"field":"i","type":"quantitative"}}},
 {"data":{"name":"lab"},"mark":{"type":"text","align":"left","baseline":"middle","font":"Liberation Sans","fontSize":28,"color":"#111"},
  "encoding":{"text":{"field":"t"}}}
]
}
